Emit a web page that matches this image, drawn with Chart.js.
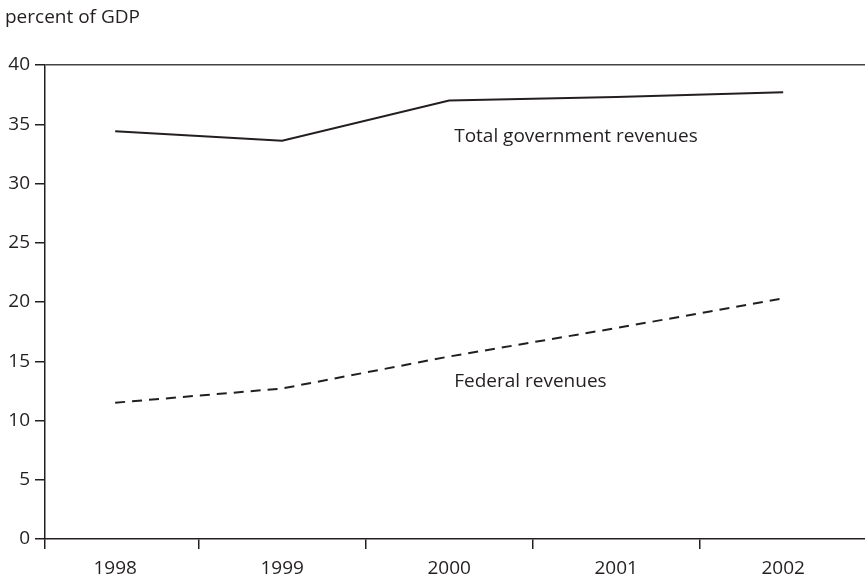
<!DOCTYPE html>
<html>
<head>
<meta charset="utf-8">
<script src="https://cdn.jsdelivr.net/npm/chart.js@4"></script>
<style>
  html, body { margin: 0; padding: 0; background: #fff; }
  #wrap { width: 865px; height: 579px; position: relative; }
</style>
</head>
<body>
<div id="wrap"><canvas id="c"></canvas></div>
<script>
const years = ['1998', '1999', '2000', '2001', '2002'];
const totalRevenues = [34.4, 33.6, 37.0, 37.3, 37.7];
const federalRevenues = [11.5, 12.7, 15.4, 17.8, 20.3];
const yTicks = [0, 5, 10, 15, 20, 25, 30, 35, 40];
const yAxisTitle = 'percent of GDP';
const seriesLabels = ['Total government revenues', 'Federal revenues'];

const FONT = '"Open Sans", sans-serif';
const INK = '#231f20';

const annotate = {
  id: 'annotate',
  afterDraw(chart) {
    const ctx = chart.ctx;
    const xs = chart.scales.x, ys = chart.scales.y;
    ctx.save();
    ctx.fillStyle = INK;
    ctx.font = '19px ' + FONT;
    ctx.textBaseline = 'middle';
    ctx.textAlign = 'left';
    ctx.fillText(yAxisTitle, 5, 18);
    ctx.fillText(seriesLabels[0], xs.getPixelForValue(2.03), ys.getPixelForValue(34.0));
    ctx.fillText(seriesLabels[1], xs.getPixelForValue(2.03), ys.getPixelForValue(13.3));
    ctx.restore();
  }
};

const toPts = arr => arr.map((v, i) => ({ x: i, y: v }));

new Chart(document.getElementById('c'), {
  type: 'line',
  data: {
    datasets: [
      { label: seriesLabels[0], data: toPts(totalRevenues), borderColor: INK, borderWidth: 2, pointRadius: 0, tension: 0, fill: false },
      { label: seriesLabels[1], data: toPts(federalRevenues), borderColor: INK, borderWidth: 2, borderDash: [10, 7], pointRadius: 0, tension: 0, fill: false }
    ]
  },
  options: {
    responsive: true,
    maintainAspectRatio: false,
    animation: false,
    layout: { padding: { top: 65, right: 0, left: 0, bottom: 0 } },
    plugins: { legend: { display: false }, tooltip: { enabled: false }, title: { display: false } },
    scales: {
      x: {
        type: 'linear',
        min: -0.42,
        max: 4.49,
        afterBuildTicks(scale) {
          const t = [{ value: -0.42 }];
          years.forEach((y, i) => { t.push({ value: i }); if (i < years.length - 1) t.push({ value: i + 0.5 }); });
          scale.ticks = t;
        },
        afterFit(scale) { scale.height = 40; },
        border: { display: true, color: INK, width: 1.5 },
        grid: {
          drawOnChartArea: false,
          drawTicks: true,
          tickLength: 10,
          lineWidth: 1.5,
          color: 'transparent',
          tickColor: ctx => (Number.isInteger(ctx.tick.value) ? 'transparent' : INK)
        },
        ticks: {
          autoSkip: false,
          maxRotation: 0,
          padding: 8,
          color: INK,
          font: { family: FONT, size: 19 },
          callback: v => (Number.isInteger(v) ? years[v] : '')
        }
      },
      y: {
        min: 0,
        max: 40,
        afterBuildTicks(scale) { scale.ticks = yTicks.map(v => ({ value: v })); },
        afterFit(scale) { scale.width = 45; },
        border: { display: true, color: INK, width: 1.5 },
        grid: {
          drawOnChartArea: true,
          tickLength: 10,
          lineWidth: 1.5,
          color: ctx => (ctx.tick && ctx.tick.value === 40 ? '#444' : 'transparent'),
          tickColor: INK
        },
        ticks: {
          padding: 5,
          color: INK,
          font: { family: FONT, size: 19 }
        }
      }
    }
  },
  plugins: [annotate]
});
</script>
</body>
</html>
